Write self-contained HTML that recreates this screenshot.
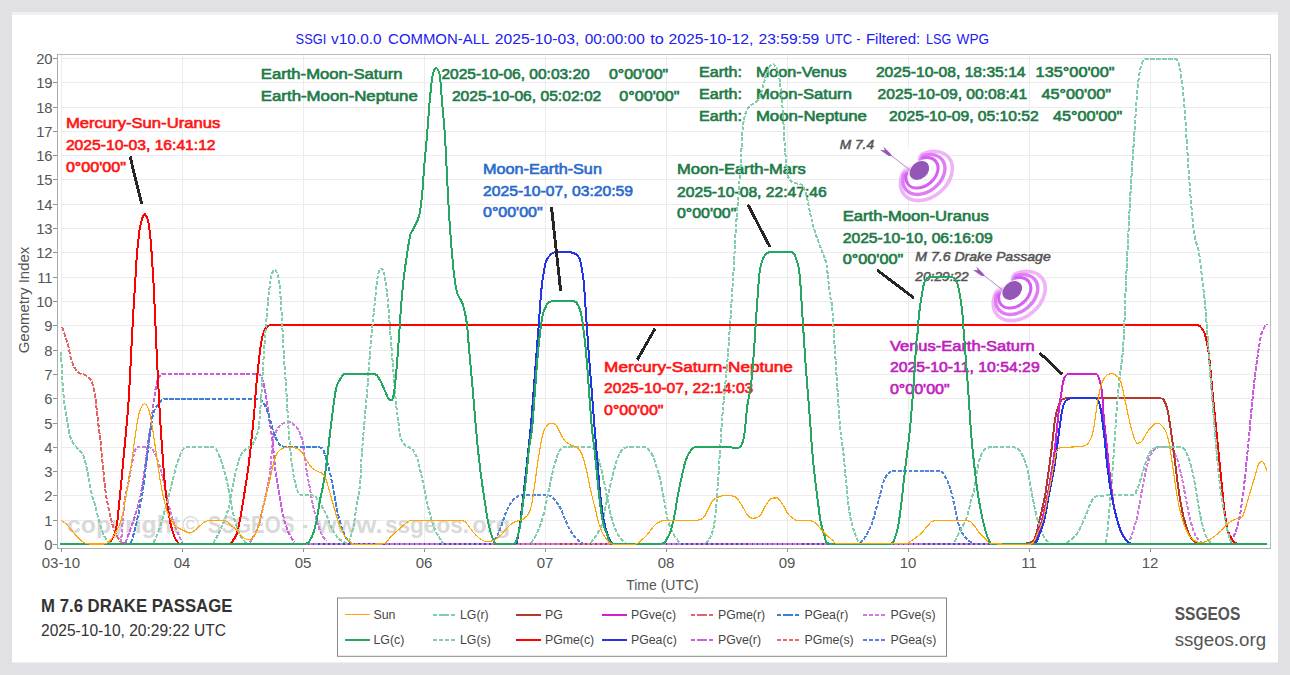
<!DOCTYPE html>
<html><head><meta charset="utf-8"><title>SSGI chart</title>
<style>
html,body{margin:0;padding:0;background:#e1e0e4;width:1290px;height:675px;overflow:hidden;}
svg{display:block;}
text{font-family:"Liberation Sans",sans-serif;}
</style></head><body>
<svg width="1290" height="675" viewBox="0 0 1290 675">
<rect x="0" y="0" width="1290" height="675" fill="#e1e0e4"/>
<rect x="12" y="12" width="1266" height="650.5" fill="#ffffff"/>
<rect x="12" y="12" width="1266" height="3" fill="#f1f1f1"/>
<g stroke="#ececec" stroke-width="1" shape-rendering="crispEdges"><line x1="61" y1="520.5" x2="1270" y2="520.5"/><line x1="61" y1="495.5" x2="1270" y2="495.5"/><line x1="61" y1="471.5" x2="1270" y2="471.5"/><line x1="61" y1="447.5" x2="1270" y2="447.5"/><line x1="61" y1="423.5" x2="1270" y2="423.5"/><line x1="61" y1="398.5" x2="1270" y2="398.5"/><line x1="61" y1="374.5" x2="1270" y2="374.5"/><line x1="61" y1="350.5" x2="1270" y2="350.5"/><line x1="61" y1="325.5" x2="1270" y2="325.5"/><line x1="61" y1="301.5" x2="1270" y2="301.5"/><line x1="61" y1="277.5" x2="1270" y2="277.5"/><line x1="61" y1="252.5" x2="1270" y2="252.5"/><line x1="61" y1="228.5" x2="1270" y2="228.5"/><line x1="61" y1="204.5" x2="1270" y2="204.5"/><line x1="61" y1="179.5" x2="1270" y2="179.5"/><line x1="61" y1="155.5" x2="1270" y2="155.5"/><line x1="61" y1="131.5" x2="1270" y2="131.5"/><line x1="61" y1="107.5" x2="1270" y2="107.5"/><line x1="61" y1="82.5" x2="1270" y2="82.5"/><line x1="61" y1="58.5" x2="1270" y2="58.5"/><line x1="61" y1="544.5" x2="1270" y2="544.5"/><line x1="61.5" y1="55" x2="61.5" y2="545"/><line x1="182.5" y1="55" x2="182.5" y2="545"/><line x1="303.5" y1="55" x2="303.5" y2="545"/><line x1="424.5" y1="55" x2="424.5" y2="545"/><line x1="545.5" y1="55" x2="545.5" y2="545"/><line x1="666.5" y1="55" x2="666.5" y2="545"/><line x1="787.5" y1="55" x2="787.5" y2="545"/><line x1="908.5" y1="55" x2="908.5" y2="545"/><line x1="1029.5" y1="55" x2="1029.5" y2="545"/><line x1="1150.5" y1="55" x2="1150.5" y2="545"/></g>
<path d="M57.5 54.5 H1270.5 V548" fill="none" stroke="#bbbbbb" stroke-width="1" shape-rendering="crispEdges"/>
<path d="M57.5 54 V548.5 H1270.5" fill="none" stroke="#acacac" stroke-width="1" shape-rendering="crispEdges"/>
<g stroke="#909090" stroke-width="1" shape-rendering="crispEdges"><line x1="53" y1="544.5" x2="57" y2="544.5"/><line x1="53" y1="520.5" x2="57" y2="520.5"/><line x1="53" y1="495.5" x2="57" y2="495.5"/><line x1="53" y1="471.5" x2="57" y2="471.5"/><line x1="53" y1="447.5" x2="57" y2="447.5"/><line x1="53" y1="423.5" x2="57" y2="423.5"/><line x1="53" y1="398.5" x2="57" y2="398.5"/><line x1="53" y1="374.5" x2="57" y2="374.5"/><line x1="53" y1="350.5" x2="57" y2="350.5"/><line x1="53" y1="325.5" x2="57" y2="325.5"/><line x1="53" y1="301.5" x2="57" y2="301.5"/><line x1="53" y1="277.5" x2="57" y2="277.5"/><line x1="53" y1="252.5" x2="57" y2="252.5"/><line x1="53" y1="228.5" x2="57" y2="228.5"/><line x1="53" y1="204.5" x2="57" y2="204.5"/><line x1="53" y1="179.5" x2="57" y2="179.5"/><line x1="53" y1="155.5" x2="57" y2="155.5"/><line x1="53" y1="131.5" x2="57" y2="131.5"/><line x1="53" y1="107.5" x2="57" y2="107.5"/><line x1="53" y1="82.5" x2="57" y2="82.5"/><line x1="53" y1="58.5" x2="57" y2="58.5"/><line x1="61.5" y1="549" x2="61.5" y2="552"/><line x1="182.5" y1="549" x2="182.5" y2="552"/><line x1="303.5" y1="549" x2="303.5" y2="552"/><line x1="424.5" y1="549" x2="424.5" y2="552"/><line x1="545.5" y1="549" x2="545.5" y2="552"/><line x1="666.5" y1="549" x2="666.5" y2="552"/><line x1="787.5" y1="549" x2="787.5" y2="552"/><line x1="908.5" y1="549" x2="908.5" y2="552"/><line x1="1029.5" y1="549" x2="1029.5" y2="552"/><line x1="1150.5" y1="549" x2="1150.5" y2="552"/></g>
<g font-size="14.8" fill="#555"><text x="52.6" y="549.5" text-anchor="end">0</text><text x="52.6" y="525.5" text-anchor="end">1</text><text x="52.6" y="500.5" text-anchor="end">2</text><text x="52.6" y="476.5" text-anchor="end">3</text><text x="52.6" y="452.5" text-anchor="end">4</text><text x="52.6" y="428.5" text-anchor="end">5</text><text x="52.6" y="403.5" text-anchor="end">6</text><text x="52.6" y="379.5" text-anchor="end">7</text><text x="52.6" y="355.5" text-anchor="end">8</text><text x="52.6" y="330.5" text-anchor="end">9</text><text x="52.6" y="306.5" text-anchor="end">10</text><text x="52.6" y="282.5" text-anchor="end">11</text><text x="52.6" y="257.5" text-anchor="end">12</text><text x="52.6" y="233.5" text-anchor="end">13</text><text x="52.6" y="209.5" text-anchor="end">14</text><text x="52.6" y="184.5" text-anchor="end">15</text><text x="52.6" y="160.5" text-anchor="end">16</text><text x="52.6" y="136.5" text-anchor="end">17</text><text x="52.6" y="112.5" text-anchor="end">18</text><text x="52.6" y="87.5" text-anchor="end">19</text><text x="52.6" y="63.5" text-anchor="end">20</text></g>
<g font-size="15" fill="#555"><text x="60.9" y="567.8" text-anchor="middle">03-10</text><text x="182.0" y="567.8" text-anchor="middle">04</text><text x="303.0" y="567.8" text-anchor="middle">05</text><text x="424.0" y="567.8" text-anchor="middle">06</text><text x="545.0" y="567.8" text-anchor="middle">07</text><text x="666.0" y="567.8" text-anchor="middle">08</text><text x="787.0" y="567.8" text-anchor="middle">09</text><text x="908.0" y="567.8" text-anchor="middle">10</text><text x="1029.0" y="567.8" text-anchor="middle">11</text><text x="1150.0" y="567.8" text-anchor="middle">12</text></g>
<text x="626.20" y="589.7" font-size="15" fill="#555" textLength="72.50" lengthAdjust="spacingAndGlyphs">Time (UTC)</text>
<text transform="translate(29.2,300) rotate(-90)" font-size="15" fill="#555" text-anchor="middle">Geometry Index</text>
<text x="295.60" y="43.9" font-size="14" fill="#2020f0" textLength="30.80" lengthAdjust="spacingAndGlyphs">SSGI</text>
<text x="331.10" y="43.9" font-size="14" fill="#2020f0" textLength="50.40" lengthAdjust="spacingAndGlyphs">v10.0.0</text>
<text x="388.10" y="43.9" font-size="14" fill="#2020f0" textLength="101.21" lengthAdjust="spacingAndGlyphs">COMMON-ALL</text>
<text x="494.80" y="43.9" font-size="14" fill="#2020f0" textLength="84.50" lengthAdjust="spacingAndGlyphs">2025-10-03,</text>
<text x="584.70" y="43.9" font-size="14" fill="#2020f0" textLength="60.09" lengthAdjust="spacingAndGlyphs">00:00:00</text>
<text x="650.20" y="43.9" font-size="14" fill="#2020f0" textLength="13.60" lengthAdjust="spacingAndGlyphs">to</text>
<text x="668.50" y="43.9" font-size="14" fill="#2020f0" textLength="84.90" lengthAdjust="spacingAndGlyphs">2025-10-12,</text>
<text x="758.50" y="43.9" font-size="14" fill="#2020f0" textLength="60.79" lengthAdjust="spacingAndGlyphs">23:59:59</text>
<text x="825.20" y="43.9" font-size="14" fill="#2020f0" textLength="27.10" lengthAdjust="spacingAndGlyphs">UTC</text>
<text x="856.60" y="43.9" font-size="14" fill="#2020f0" textLength="3.90" lengthAdjust="spacingAndGlyphs">-</text>
<text x="865.90" y="43.9" font-size="14" fill="#2020f0" textLength="54.30" lengthAdjust="spacingAndGlyphs">Filtered:</text>
<text x="926.00" y="43.9" font-size="14" fill="#2020f0" textLength="25.20" lengthAdjust="spacingAndGlyphs">LSG</text>
<text x="956.60" y="43.9" font-size="14" fill="#2020f0" textLength="32.50" lengthAdjust="spacingAndGlyphs">WPG</text>
<text x="67.00" y="532.6" font-size="24" fill="#d4d4d4" font-weight="bold" textLength="113.19" lengthAdjust="spacingAndGlyphs" fill-opacity="0.9">copyright</text>
<text x="182.10" y="532.6" font-size="24" fill="#d4d4d4" textLength="17.00" lengthAdjust="spacingAndGlyphs" fill-opacity="0.9">©</text>
<text x="207.70" y="532.6" font-size="24" fill="#d4d4d4" font-weight="bold" textLength="86.69" lengthAdjust="spacingAndGlyphs" fill-opacity="0.9">SSGEOS</text>
<text x="302.50" y="532.6" font-size="24" fill="#d4d4d4" font-weight="bold" textLength="5.50" lengthAdjust="spacingAndGlyphs" fill-opacity="0.9">-</text>
<text x="316.78" y="532.6" font-size="24" fill="#d4d4d4" font-weight="bold" textLength="65.83" lengthAdjust="spacingAndGlyphs" fill-opacity="0.9">www.</text>
<text x="384.90" y="532.6" font-size="24" fill="#d4d4d4" font-weight="bold" textLength="84.20" lengthAdjust="spacingAndGlyphs" fill-opacity="0.9">ssgeos.</text>
<text x="472.20" y="532.6" font-size="24" fill="#d4d4d4" font-weight="bold" textLength="38.00" lengthAdjust="spacingAndGlyphs" fill-opacity="0.9">org</text>
<text x="65.90" y="128.2" font-size="14" fill="#ff1414" stroke="#ff1414" stroke-width="0.6" textLength="154.41" lengthAdjust="spacingAndGlyphs">Mercury-Sun-Uranus</text>
<text x="65.90" y="149.8" font-size="14" fill="#ff1414" stroke="#ff1414" stroke-width="0.6" textLength="149.69" lengthAdjust="spacingAndGlyphs">2025-10-03, 16:41:12</text>
<text x="65.90" y="171.5" font-size="14" fill="#ff1414" stroke="#ff1414" stroke-width="0.6" textLength="60.09" lengthAdjust="spacingAndGlyphs">0°00'00"</text>
<text x="260.80" y="78.7" font-size="14" fill="#217a47" stroke="#217a47" stroke-width="0.6" textLength="141.70" lengthAdjust="spacingAndGlyphs">Earth-Moon-Saturn</text>
<text x="441.40" y="78.7" font-size="14" fill="#217a47" stroke="#217a47" stroke-width="0.6" textLength="148.29" lengthAdjust="spacingAndGlyphs">2025-10-06, 00:03:20</text>
<text x="608.90" y="78.7" font-size="14" fill="#217a47" stroke="#217a47" stroke-width="0.6" textLength="59.39" lengthAdjust="spacingAndGlyphs">0°00'00"</text>
<text x="260.80" y="101.0" font-size="14" fill="#217a47" stroke="#217a47" stroke-width="0.6" textLength="157.01" lengthAdjust="spacingAndGlyphs">Earth-Moon-Neptune</text>
<text x="451.90" y="101.0" font-size="14" fill="#217a47" stroke="#217a47" stroke-width="0.6" textLength="149.39" lengthAdjust="spacingAndGlyphs">2025-10-06, 05:02:02</text>
<text x="619.30" y="101.0" font-size="14" fill="#217a47" stroke="#217a47" stroke-width="0.6" textLength="60.09" lengthAdjust="spacingAndGlyphs">0°00'00"</text>
<text x="699.00" y="76.6" font-size="14" fill="#217a47" stroke="#217a47" stroke-width="0.6" textLength="43.00" lengthAdjust="spacingAndGlyphs">Earth:</text>
<text x="755.90" y="76.6" font-size="14" fill="#217a47" stroke="#217a47" stroke-width="0.6" textLength="90.80" lengthAdjust="spacingAndGlyphs">Moon-Venus</text>
<text x="875.90" y="76.6" font-size="14" fill="#217a47" stroke="#217a47" stroke-width="0.6" textLength="149.69" lengthAdjust="spacingAndGlyphs">2025-10-08, 18:35:14</text>
<text x="1035.60" y="76.6" font-size="14" fill="#217a47" stroke="#217a47" stroke-width="0.6" textLength="78.90" lengthAdjust="spacingAndGlyphs">135°00'00"</text>
<text x="699.00" y="98.6" font-size="14" fill="#217a47" stroke="#217a47" stroke-width="0.6" textLength="43.00" lengthAdjust="spacingAndGlyphs">Earth:</text>
<text x="755.90" y="98.6" font-size="14" fill="#217a47" stroke="#217a47" stroke-width="0.6" textLength="96.00" lengthAdjust="spacingAndGlyphs">Moon-Saturn</text>
<text x="877.60" y="98.6" font-size="14" fill="#217a47" stroke="#217a47" stroke-width="0.6" textLength="149.69" lengthAdjust="spacingAndGlyphs">2025-10-09, 00:08:41</text>
<text x="1041.50" y="98.6" font-size="14" fill="#217a47" stroke="#217a47" stroke-width="0.6" textLength="69.50" lengthAdjust="spacingAndGlyphs">45°00'00"</text>
<text x="699.00" y="120.6" font-size="14" fill="#217a47" stroke="#217a47" stroke-width="0.6" textLength="43.00" lengthAdjust="spacingAndGlyphs">Earth:</text>
<text x="755.90" y="120.6" font-size="14" fill="#217a47" stroke="#217a47" stroke-width="0.6" textLength="111.00" lengthAdjust="spacingAndGlyphs">Moon-Neptune</text>
<text x="889.10" y="120.6" font-size="14" fill="#217a47" stroke="#217a47" stroke-width="0.6" textLength="149.69" lengthAdjust="spacingAndGlyphs">2025-10-09, 05:10:52</text>
<text x="1053.00" y="120.6" font-size="14" fill="#217a47" stroke="#217a47" stroke-width="0.6" textLength="69.20" lengthAdjust="spacingAndGlyphs">45°00'00"</text>
<text x="483.00" y="173.8" font-size="14" fill="#2a6bcc" stroke="#2a6bcc" stroke-width="0.6" textLength="118.90" lengthAdjust="spacingAndGlyphs">Moon-Earth-Sun</text>
<text x="483.00" y="196.0" font-size="14" fill="#2a6bcc" stroke="#2a6bcc" stroke-width="0.6" textLength="149.99" lengthAdjust="spacingAndGlyphs">2025-10-07, 03:20:59</text>
<text x="483.00" y="217.3" font-size="14" fill="#2a6bcc" stroke="#2a6bcc" stroke-width="0.6" textLength="59.59" lengthAdjust="spacingAndGlyphs">0°00'00"</text>
<text x="677.00" y="174.4" font-size="14" fill="#217a47" stroke="#217a47" stroke-width="0.6" textLength="128.70" lengthAdjust="spacingAndGlyphs">Moon-Earth-Mars</text>
<text x="677.00" y="196.7" font-size="14" fill="#217a47" stroke="#217a47" stroke-width="0.6" textLength="149.79" lengthAdjust="spacingAndGlyphs">2025-10-08, 22:47:46</text>
<text x="677.00" y="218.0" font-size="14" fill="#217a47" stroke="#217a47" stroke-width="0.6" textLength="59.39" lengthAdjust="spacingAndGlyphs">0°00'00"</text>
<text x="604.10" y="371.8" font-size="14" fill="#ff1414" stroke="#ff1414" stroke-width="0.6" textLength="188.81" lengthAdjust="spacingAndGlyphs">Mercury-Saturn-Neptune</text>
<text x="604.10" y="393.3" font-size="14" fill="#ff1414" stroke="#ff1414" stroke-width="0.6" textLength="149.19" lengthAdjust="spacingAndGlyphs">2025-10-07, 22:14:03</text>
<text x="604.10" y="414.8" font-size="14" fill="#ff1414" stroke="#ff1414" stroke-width="0.6" textLength="59.39" lengthAdjust="spacingAndGlyphs">0°00'00"</text>
<text x="842.70" y="220.6" font-size="14" fill="#217a47" stroke="#217a47" stroke-width="0.6" textLength="146.01" lengthAdjust="spacingAndGlyphs">Earth-Moon-Uranus</text>
<text x="842.70" y="242.6" font-size="14" fill="#217a47" stroke="#217a47" stroke-width="0.6" textLength="149.99" lengthAdjust="spacingAndGlyphs">2025-10-10, 06:16:09</text>
<text x="842.70" y="264.2" font-size="14" fill="#217a47" stroke="#217a47" stroke-width="0.6" textLength="60.59" lengthAdjust="spacingAndGlyphs">0°00'00"</text>
<text x="889.90" y="350.5" font-size="14" fill="#c01fc0" stroke="#c01fc0" stroke-width="0.6" textLength="144.80" lengthAdjust="spacingAndGlyphs">Venus-Earth-Saturn</text>
<text x="889.90" y="372.2" font-size="14" fill="#c01fc0" stroke="#c01fc0" stroke-width="0.6" textLength="149.80" lengthAdjust="spacingAndGlyphs">2025-10-11, 10:54:29</text>
<text x="889.90" y="393.9" font-size="14" fill="#c01fc0" stroke="#c01fc0" stroke-width="0.6" textLength="59.79" lengthAdjust="spacingAndGlyphs">0°00'00"</text>
<text x="839.65" y="148.7" font-size="13" fill="#555" font-style="italic" stroke="#555" stroke-width="0.50" textLength="34.40" lengthAdjust="spacingAndGlyphs">M 7.4</text>
<text x="915.25" y="260.6" font-size="13" fill="#555" font-style="italic" stroke="#555" stroke-width="0.50" textLength="135.50" lengthAdjust="spacingAndGlyphs">M 7.6 Drake Passage</text>
<text x="915.33" y="280.6" font-size="13" fill="#555" font-style="italic" stroke="#555" stroke-width="0.50" textLength="53.41" lengthAdjust="spacingAndGlyphs">20:29:22</text>
<line x1="305" y1="544" x2="1267" y2="544" stroke="#d473d9" stroke-width="2" shape-rendering="crispEdges"/>
<line x1="307.84" y1="544" x2="494.0" y2="544" stroke="#2448e0" stroke-width="2" stroke-dasharray="1.6 3.4417" shape-rendering="crispEdges"/>
<line x1="494.38" y1="544" x2="612.0" y2="544" stroke="#d42a2a" stroke-width="2" stroke-dasharray="1.6 3.4417" shape-rendering="crispEdges"/>
<line x1="615.38" y1="544" x2="1030.0" y2="544" stroke="#2448e0" stroke-width="2" stroke-dasharray="1.6 3.4417" shape-rendering="crispEdges"/>
<path d="M62.1 326.7 C62.7 328.5 64.7 334.1 65.7 337.3 C66.7 340.6 67.4 342.6 68.3 346.2 C69.2 349.8 70.0 355.1 71.0 358.7 C72.0 362.3 73.3 365.2 74.6 367.6 C75.9 370.0 77.4 371.7 79.0 372.9 C80.6 374.1 82.7 374.0 84.3 374.7 C85.9 375.4 87.5 375.8 88.8 377.3 C90.1 378.8 91.3 380.5 92.3 383.6 C93.3 386.7 94.3 391.9 95.0 396.0 C95.7 400.1 96.0 404.0 96.5 408.0 C97.0 412.0 97.2 414.8 97.8 420.0 C98.4 425.2 99.6 432.9 100.3 439.3 C101.0 445.7 101.6 452.1 102.2 458.5 C102.8 464.9 103.4 471.7 104.1 477.8 C104.8 483.9 105.3 489.6 106.1 495.1 C106.9 500.6 108.0 506.1 109.0 510.6 C110.0 515.1 110.7 518.2 111.8 522.1 C112.9 526.0 114.2 530.5 115.7 533.7 C117.2 536.9 119.2 539.8 120.5 541.4 C121.8 543.0 122.9 543.0 123.4 543.3" fill="none" stroke="#e46464" stroke-width="2.00" stroke-dasharray="4.5 1.5" stroke-linejoin="round" shape-rendering="crispEdges"/>
<path d="M121.0 543.0 C121.6 536.3 123.2 512.8 124.4 502.9 C125.6 493.0 127.1 489.4 128.2 483.6 C129.3 477.8 130.1 473.1 131.1 468.2 C132.1 463.3 133.1 457.4 134.0 454.0 C134.9 450.6 135.6 449.2 136.6 448.0 C137.6 446.8 138.6 446.7 140.0 446.5 C141.4 446.5 143.3 446.5 145.0 446.7 C146.7 446.9 148.6 446.8 150.0 447.5 C151.4 448.2 152.2 448.8 153.5 451.0 C154.8 453.2 156.6 457.2 158.0 461.0 C159.4 464.8 160.7 468.7 162.0 474.0 C163.3 479.3 164.6 486.7 166.0 493.0 C167.4 499.3 169.1 506.8 170.4 512.0 C171.7 517.2 172.6 520.1 174.0 524.0 C175.4 527.9 177.5 532.4 178.9 535.6 C180.3 538.8 182.1 542.0 182.7 543.3" fill="none" stroke="#d07ae0" stroke-width="2.00" stroke-dasharray="3.8 1.6" stroke-linejoin="round" shape-rendering="crispEdges"/>
<path d="M250.1 542.3 C251.4 539.9 255.6 534.1 257.9 527.9 C260.1 521.6 261.7 513.1 263.6 504.8 C265.5 496.5 268.1 485.5 269.4 477.8 C270.7 470.1 270.6 464.9 271.3 458.5 C272.0 452.1 272.3 444.1 273.3 439.3 C274.3 434.5 275.8 432.1 277.1 429.6 C278.4 427.1 279.7 425.6 281.0 424.5 C282.3 423.4 283.5 423.3 284.8 422.9 C286.1 422.5 287.5 422.3 288.7 422.3 C289.9 422.4 290.7 422.3 292.2 423.3 C293.7 424.4 296.1 426.1 297.8 428.9 C299.5 431.7 301.1 435.6 302.2 440.0 C303.3 444.4 303.6 450.4 304.4 455.6 C305.1 460.8 305.8 465.6 306.7 471.1 C307.6 476.7 308.9 483.0 310.0 488.9 C311.1 494.8 312.0 500.8 313.3 506.7 C314.6 512.6 316.3 519.6 317.8 524.4 C319.3 529.2 320.7 532.8 322.2 535.6 C323.7 538.4 325.9 540.2 326.7 541.1" fill="none" stroke="#d07ae0" stroke-width="2.00" stroke-dasharray="3.8 1.6" stroke-linejoin="round" shape-rendering="crispEdges"/>
<path d="M1130.0 540.1 C1131.2 536.4 1134.9 526.5 1137.0 517.6 C1139.1 508.7 1140.7 496.1 1142.6 486.7 C1144.5 477.3 1146.3 467.4 1148.2 461.3 C1150.1 455.2 1151.9 452.4 1153.8 450.0 C1155.7 447.6 1157.0 447.6 1159.5 447.1 C1162.0 446.9 1166.2 446.9 1169.0 446.9 C1171.8 448.4 1174.1 452.1 1176.1 456.4 C1178.1 460.7 1179.2 466.2 1180.8 472.9 C1182.4 479.6 1183.9 488.7 1185.5 496.6 C1187.1 504.5 1188.5 513.6 1190.3 520.3 C1192.1 527.0 1194.2 533.1 1196.2 536.9 C1198.2 540.6 1201.1 541.8 1202.1 542.8" fill="none" stroke="#d07ae0" stroke-width="2.00" stroke-dasharray="3.8 1.6" stroke-linejoin="round" shape-rendering="crispEdges"/>
<path d="M125.3 543.0 C126.4 540.0 129.7 532.0 132.0 525.0 C134.3 518.0 137.4 509.0 139.4 500.7 C141.4 492.4 142.6 484.4 144.0 475.0 C145.4 465.6 146.6 454.2 147.9 444.4 C149.2 434.6 150.6 425.9 152.0 416.0 C153.4 406.1 154.9 391.8 156.3 385.0 C157.7 378.2 159.1 376.8 160.5 375.0 C161.9 374.0 160.5 374.2 165.0 374.0 C181.0 374.0 240.4 374.0 256.6 374.0 C262.2 374.8 260.6 374.7 262.2 378.8 C263.8 382.9 265.2 391.6 266.4 398.5 C267.6 405.4 268.4 413.2 269.4 420.0 C270.4 426.8 271.3 431.3 272.3 439.3 C273.3 447.3 274.1 459.2 275.2 468.2 C276.3 477.2 277.8 486.0 279.0 493.2 C280.2 500.4 281.1 505.9 282.2 511.1 C283.3 516.3 284.3 520.3 285.6 524.4 C286.9 528.5 288.5 532.6 290.0 535.6 C291.5 538.6 293.7 541.1 294.4 542.2" fill="none" stroke="#cc5ce0" stroke-width="2.00" stroke-dasharray="4.5 1.5" stroke-linejoin="round" shape-rendering="crispEdges"/>
<path d="M1231.1 542.6 C1232.3 539.2 1236.3 531.8 1238.5 522.2 C1240.7 512.6 1242.2 500.6 1244.1 485.2 C1245.9 469.8 1247.8 448.1 1249.6 429.6 C1251.4 411.1 1253.3 389.5 1255.2 374.1 C1257.1 358.7 1259.2 344.7 1260.7 337.0 C1262.2 329.3 1263.0 330.1 1264.0 328.0 C1265.0 325.9 1266.5 324.8 1267.0 324.1" fill="none" stroke="#cc5ce0" stroke-width="2.00" stroke-dasharray="4.5 1.5" stroke-linejoin="round" shape-rendering="crispEdges"/>
<path d="M131.0 543.0 C131.8 540.0 134.1 533.0 136.0 525.0 C137.9 517.0 140.5 505.0 142.2 495.0 C143.9 485.0 144.8 474.4 146.0 465.0 C147.2 455.6 148.3 446.3 149.3 438.8 C150.3 431.3 151.1 425.0 152.0 420.0 C152.9 415.0 153.6 412.0 155.0 409.0 C156.4 406.0 158.8 403.8 160.5 402.0 C162.2 400.2 160.5 399.1 165.0 398.5 C180.8 398.5 239.0 398.5 255.2 398.5 C262.2 399.0 260.1 399.0 262.2 401.3 C264.3 403.6 266.0 407.4 267.9 412.5 C269.8 417.6 271.6 426.8 273.5 432.0 C275.4 437.2 277.1 441.0 279.0 443.5 C280.9 446.0 279.0 446.1 284.7 446.8 C291.5 447.5 313.4 446.8 320.0 447.5 C324.4 448.6 323.1 450.5 324.4 453.3 C325.7 456.1 326.7 460.3 327.8 464.4 C328.9 468.5 330.0 472.6 331.1 477.8 C332.2 483.0 333.3 489.7 334.4 495.6 C335.5 501.5 336.5 507.7 337.8 513.3 C339.1 518.8 340.7 524.6 342.2 528.9 C343.7 533.2 345.2 536.5 346.7 538.9 C348.2 541.3 350.4 542.6 351.1 543.3" fill="none" stroke="#3c7fd6" stroke-width="2.00" stroke-dasharray="4.5 1.5" stroke-linejoin="round" shape-rendering="crispEdges"/>
<path d="M494.3 540.4 C494.9 539.3 496.9 536.4 498.2 533.7 C499.5 531.0 500.7 527.5 502.0 524.0 C503.3 520.5 504.6 515.7 505.9 512.5 C507.2 509.3 508.1 507.2 509.7 504.8 C511.3 502.4 513.2 499.6 515.5 498.0 C517.8 496.4 518.1 495.6 523.2 495.1 C528.3 495.1 541.5 495.1 546.3 495.1 C551.1 495.4 550.5 496.1 552.1 497.1 C553.7 498.1 554.4 499.0 555.8 500.9 C557.2 502.8 559.0 505.4 560.6 508.6 C562.2 511.8 563.6 516.3 565.4 520.2 C567.2 524.1 569.3 528.6 571.2 531.8 C573.1 535.0 575.1 537.6 577.0 539.5 C578.9 541.4 581.8 542.7 582.8 543.3" fill="none" stroke="#4f86dc" stroke-width="2.00" stroke-dasharray="3.8 1.6" stroke-linejoin="round" shape-rendering="crispEdges"/>
<path d="M860.2 543.3 C861.2 542.0 864.1 538.8 866.0 535.6 C867.9 532.4 870.2 528.2 871.8 524.0 C873.4 519.8 874.3 515.1 875.6 510.6 C876.9 506.1 878.4 501.3 879.5 497.1 C880.6 492.9 881.4 488.7 882.4 485.5 C883.4 482.3 884.1 479.9 885.2 477.8 C886.3 475.7 887.5 474.1 889.1 473.0 C890.7 471.9 889.1 471.4 894.9 471.1 C903.2 471.1 930.6 471.1 938.9 471.1 C944.4 471.9 942.7 473.4 944.4 475.6 C946.1 477.8 947.6 481.1 948.9 484.4 C950.2 487.7 951.1 491.2 952.2 495.6 C953.3 500.1 954.3 505.6 955.6 511.1 C956.9 516.6 958.1 524.3 960.0 528.9 C961.9 533.5 964.5 536.5 966.7 538.9 C968.9 541.3 972.2 542.6 973.3 543.3" fill="none" stroke="#4f86dc" stroke-width="2.00" stroke-dasharray="3.8 1.6" stroke-linejoin="round" shape-rendering="crispEdges"/>
<path d="M109.0 543.6 C109.6 542.6 111.7 539.6 112.8 537.5 C113.9 535.4 114.7 533.9 115.5 531.0 C116.3 528.1 116.8 525.2 117.5 520.0 C118.2 514.8 118.8 506.7 119.5 500.0 C120.2 493.3 120.8 487.0 121.5 480.0 C122.2 473.0 122.8 465.2 123.5 458.0 C124.2 450.8 124.8 444.7 125.5 437.0 C126.2 429.3 127.1 420.7 127.8 412.0 C128.5 403.3 129.0 393.7 129.5 385.0 C130.0 376.3 130.5 366.5 130.8 360.0 C131.1 353.5 131.2 352.3 131.5 346.2 C131.8 340.1 132.3 331.2 132.7 323.6 C133.1 316.1 133.6 308.0 134.0 300.9 C134.4 293.8 134.9 287.5 135.3 280.8 C135.7 274.1 136.1 266.5 136.5 260.6 C136.9 254.7 137.3 250.5 137.8 245.5 C138.3 240.5 138.9 234.6 139.5 230.4 C140.1 226.2 141.0 222.7 141.6 220.3 C142.2 217.9 142.7 217.1 143.2 216.0 C143.7 214.9 144.1 214.0 144.6 214.0 C145.1 214.0 145.6 214.9 146.2 216.0 C146.8 217.1 147.3 217.9 147.9 220.3 C148.5 222.7 149.1 226.2 149.6 230.4 C150.1 234.6 150.7 240.5 151.1 245.5 C151.5 250.5 151.7 254.7 152.1 260.6 C152.5 266.5 153.0 274.1 153.4 280.8 C153.8 287.5 154.1 293.8 154.4 300.9 C154.7 308.0 155.1 316.1 155.4 323.6 C155.7 331.2 156.1 338.5 156.4 346.2 C156.8 353.9 157.1 361.9 157.5 370.0 C157.9 378.1 158.3 385.8 158.8 395.0 C159.3 404.2 159.8 413.3 160.5 425.0 C161.2 436.7 162.4 453.3 163.3 465.0 C164.2 476.7 164.9 485.3 166.1 495.0 C167.3 504.7 169.0 516.0 170.4 523.0 C171.8 530.0 173.2 533.6 174.6 537.0 C176.0 540.4 178.1 542.5 178.8 543.6" fill="none" stroke="#ff0000" stroke-width="2.00" stroke-linejoin="round" shape-rendering="crispEdges"/>
<path d="M230.9 543.6 C231.9 542.0 235.1 538.4 236.7 534.0 C238.3 529.6 239.2 523.8 240.5 517.0 C241.8 510.2 243.1 501.3 244.4 493.2 C245.7 485.1 247.2 475.6 248.2 468.2 C249.2 460.8 249.8 455.0 250.5 448.9 C251.2 442.8 251.7 437.2 252.3 431.6 C252.9 426.0 253.4 422.5 254.0 415.3 C254.6 408.1 255.2 397.6 256.0 388.7 C256.8 379.8 257.8 369.8 258.7 362.0 C259.6 354.2 260.4 347.1 261.3 342.0 C262.2 336.9 262.9 334.2 264.0 331.5 C265.1 328.8 266.5 327.1 268.0 326.0 C269.5 325.1 268.0 325.2 273.0 325.1 C427.7 325.1 1041.3 325.1 1196.0 325.1 C1201.0 325.5 1199.6 326.2 1201.0 327.5 C1202.4 328.8 1203.4 329.9 1204.5 333.0 C1205.6 336.1 1206.7 340.7 1207.6 346.0 C1208.5 351.3 1209.2 357.2 1210.0 365.0 C1210.8 372.8 1211.5 381.8 1212.6 392.6 C1213.6 403.4 1215.1 417.2 1216.3 429.6 C1217.5 442.0 1218.8 454.4 1220.0 466.7 C1221.2 479.0 1222.5 493.2 1223.7 503.7 C1224.9 514.2 1225.9 523.4 1227.4 529.6 C1229.0 535.8 1231.5 538.4 1233.0 540.7 C1234.5 543.0 1236.1 543.1 1236.7 543.6" fill="none" stroke="#ff0000" stroke-width="2.00" stroke-linejoin="round" shape-rendering="crispEdges"/>
<path d="M1026.7 543.3 C1027.7 543.0 1031.2 542.8 1032.7 541.4 C1034.2 540.0 1034.9 538.5 1036.0 535.0 C1037.1 531.5 1038.0 526.5 1039.5 520.2 C1041.0 513.9 1043.3 505.0 1044.8 497.0 C1046.3 489.0 1047.4 480.0 1048.5 472.0 C1049.6 464.0 1050.5 457.6 1051.6 448.9 C1052.7 440.2 1053.9 426.6 1054.9 420.0 C1055.9 413.4 1056.6 412.1 1057.5 409.0 C1058.4 405.9 1059.1 403.3 1060.5 401.5 C1061.9 399.7 1060.5 398.8 1066.0 398.3 C1082.5 398.3 1143.1 398.3 1159.5 398.3 C1164.2 398.7 1162.8 398.5 1164.2 400.7 C1165.6 402.9 1166.8 407.2 1167.8 411.3 C1168.8 415.4 1169.3 420.4 1170.1 425.5 C1170.9 430.6 1171.7 436.2 1172.5 442.1 C1173.3 448.0 1174.1 454.8 1174.9 461.1 C1175.7 467.4 1176.5 474.1 1177.3 480.0 C1178.1 485.9 1178.6 490.7 1179.6 496.6 C1180.6 502.5 1182.0 510.5 1183.2 515.6 C1184.4 520.7 1185.5 523.9 1186.7 527.4 C1187.9 530.9 1188.9 534.5 1190.3 536.9 C1191.7 539.3 1193.4 540.6 1195.0 541.7 C1196.6 542.8 1199.0 543.0 1199.8 543.3" fill="none" stroke="#b5382b" stroke-width="2.00" stroke-linejoin="round" shape-rendering="crispEdges"/>
<path d="M61.2 351.6 C61.3 354.9 61.5 364.9 61.8 371.1 C62.1 377.3 62.5 383.0 63.0 388.9 C63.5 394.8 64.0 401.2 64.8 406.7 C65.5 412.2 66.6 417.1 67.5 422.0 C68.4 426.9 69.0 432.5 70.0 436.0 C71.0 439.5 72.0 441.0 73.3 443.1 C74.6 445.2 76.5 447.0 78.1 448.9 C79.7 450.8 81.6 452.1 82.9 454.7 C84.2 457.3 84.8 460.4 85.8 464.3 C86.8 468.2 87.7 473.0 88.7 477.8 C89.7 482.6 90.5 488.4 91.6 493.2 C92.7 498.0 94.2 501.9 95.5 506.7 C96.8 511.5 98.0 517.6 99.3 522.1 C100.6 526.6 101.9 530.7 103.2 533.7 C104.5 536.8 105.9 538.8 107.0 540.4 C108.1 542.0 109.4 542.8 109.9 543.3" fill="none" stroke="#82cdaa" stroke-width="2.00" stroke-dasharray="4.5 1.5" stroke-linejoin="round" shape-rendering="crispEdges"/>
<path d="M153.5 543.0 C154.6 540.3 157.7 534.0 160.0 527.0 C162.3 520.0 165.5 508.0 167.5 500.7 C169.5 493.4 170.6 488.6 172.0 483.0 C173.4 477.4 174.8 471.1 176.0 467.0 C177.2 462.9 177.8 461.4 178.9 458.5 C180.0 455.6 181.1 451.8 182.7 449.9 C184.3 448.0 183.7 447.5 188.5 447.0 C193.3 447.0 206.8 447.0 211.6 447.0 C216.4 447.8 215.6 448.9 217.4 451.8 C219.2 454.7 220.8 460.0 222.2 464.3 C223.6 468.6 224.6 471.7 226.1 477.8 C227.6 483.9 229.5 493.8 230.9 500.9 C232.3 508.0 233.1 514.4 234.7 520.2 C236.3 526.0 238.6 531.8 240.5 535.6 C242.4 539.4 245.3 541.8 246.3 543.0" fill="none" stroke="#82cdaa" stroke-width="2.00" stroke-dasharray="4.5 1.5" stroke-linejoin="round" shape-rendering="crispEdges"/>
<path d="M213.5 543.0 C214.8 540.5 218.6 533.9 221.2 527.9 C223.8 521.9 227.1 513.8 229.0 506.7 C230.9 499.6 231.5 491.9 232.8 485.5 C234.1 479.1 235.4 473.2 236.7 468.2 C238.0 463.2 238.9 458.8 240.5 455.6 C242.1 452.4 244.4 450.7 246.3 448.9 C248.2 447.1 250.3 447.1 252.0 445.0 C253.7 442.9 255.3 439.3 256.5 436.0 C257.7 432.7 258.2 431.8 259.0 425.0 C259.8 418.2 260.5 407.3 261.3 395.0 C262.1 382.7 263.1 364.4 264.0 351.3 C264.9 338.2 265.8 326.9 266.7 316.7 C267.6 306.5 268.5 296.9 269.3 290.0 C270.1 283.1 270.6 278.3 271.5 275.0 C272.4 271.7 273.7 270.2 274.7 270.0 C275.7 270.0 276.7 271.5 277.5 274.0 C278.3 276.5 278.9 279.2 279.5 285.0 C280.1 290.8 280.6 296.8 281.3 308.7 C282.1 320.6 283.1 342.0 284.0 356.7 C284.9 371.4 285.9 383.9 286.7 396.7 C287.5 409.5 288.0 421.6 288.9 433.3 C289.8 445.0 291.1 458.2 292.2 466.7 C293.3 475.2 294.3 479.8 295.6 484.4 C296.9 489.0 297.1 492.5 300.0 494.4 C302.9 495.6 310.3 494.7 313.3 495.6 C316.3 496.5 316.3 498.1 317.8 500.0 C319.3 501.9 320.7 504.1 322.2 506.7 C323.7 509.3 325.2 512.3 326.7 515.6 C328.2 518.9 329.2 523.0 331.1 526.7 C333.0 530.4 335.6 535.2 337.8 537.8 C340.0 540.4 342.9 541.2 344.4 542.2 C345.9 543.2 346.6 543.3 347.0 543.5" fill="none" stroke="#82cdaa" stroke-width="2.00" stroke-dasharray="3.8 1.6" stroke-linejoin="round" shape-rendering="crispEdges"/>
<path d="M348.9 542.2 C349.6 539.6 352.0 533.0 353.3 526.7 C354.6 520.4 355.6 511.4 356.7 504.4 C357.8 497.3 359.2 492.5 360.0 484.4 C360.8 476.3 361.0 465.5 361.7 455.6 C362.4 445.8 363.3 435.4 364.2 425.3 C365.1 415.2 365.9 405.7 366.8 395.1 C367.7 384.6 368.4 372.9 369.3 362.0 C370.2 351.1 371.1 339.8 372.0 330.0 C372.9 320.2 373.9 311.5 374.7 303.3 C375.5 295.1 376.3 286.3 377.0 281.0 C377.7 275.7 378.3 273.6 379.0 271.5 C379.7 269.4 380.6 268.7 381.3 268.7 C382.1 268.7 382.8 269.4 383.5 271.5 C384.2 273.6 384.8 275.7 385.5 281.0 C386.2 286.3 387.1 293.8 388.0 303.3 C388.9 312.8 389.8 326.9 390.7 338.0 C391.6 349.1 392.5 359.6 393.3 370.0 C394.1 380.4 394.9 391.8 395.7 400.2 C396.5 408.6 397.3 414.0 398.2 420.3 C399.1 426.6 399.5 433.8 400.8 438.0 C402.1 442.2 403.9 443.6 405.8 445.5 C407.7 447.4 410.2 447.2 412.1 449.3 C414.0 451.4 415.6 454.1 417.1 458.1 C418.6 462.1 419.6 467.8 420.9 473.2 C422.2 478.6 423.4 484.9 424.7 490.8 C426.0 496.7 427.0 502.6 428.5 508.5 C430.0 514.4 431.6 521.1 433.5 526.1 C435.4 531.1 438.1 535.9 439.8 538.7 C441.5 541.6 443.0 542.5 443.6 543.2" fill="none" stroke="#82cdaa" stroke-width="2.00" stroke-dasharray="3.8 1.6" stroke-linejoin="round" shape-rendering="crispEdges"/>
<path d="M530.9 543.3 C531.9 541.7 534.8 537.9 536.7 533.7 C538.6 529.5 540.7 524.4 542.5 518.3 C544.3 512.2 546.0 502.9 547.3 497.1 C548.6 491.3 549.2 488.1 550.2 483.6 C551.2 479.1 552.2 474.0 553.1 470.1 C554.0 466.2 554.7 463.7 555.8 460.5 C556.9 457.3 558.0 453.1 559.6 450.8 C561.2 448.6 560.2 447.6 565.4 447.0 C570.5 447.0 585.4 447.0 590.5 447.0 C595.6 448.0 594.6 449.9 596.2 452.8 C597.8 455.7 598.8 459.5 600.1 464.3 C601.4 469.1 602.7 475.6 604.0 481.7 C605.3 487.8 606.5 494.8 607.8 500.9 C609.1 507.0 610.2 513.1 611.7 518.3 C613.2 523.4 614.9 528.3 616.5 531.8 C618.1 535.3 619.9 537.6 621.3 539.5 C622.7 541.4 624.5 542.7 625.1 543.3" fill="none" stroke="#82cdaa" stroke-width="2.00" stroke-dasharray="4.5 1.5" stroke-linejoin="round" shape-rendering="crispEdges"/>
<path d="M590.5 543.3 C591.5 542.0 594.3 538.8 596.2 535.6 C598.1 532.4 600.4 529.1 602.0 524.0 C603.6 518.9 604.6 510.9 605.9 504.8 C607.2 498.7 608.4 492.9 609.7 487.4 C611.0 481.9 612.3 476.8 613.6 472.0 C614.9 467.2 616.0 462.2 617.4 458.5 C618.8 454.8 620.5 451.8 622.3 449.9 C624.1 448.0 624.3 447.5 628.0 447.0 C631.7 447.0 640.7 447.0 644.4 447.0 C648.1 447.8 648.6 449.9 650.2 451.8 C651.8 453.7 652.9 455.8 654.0 458.5 C655.1 461.2 655.8 464.5 656.9 468.2 C658.0 471.9 659.4 475.3 660.6 480.7 C661.8 486.1 663.0 494.1 664.3 500.8 C665.5 507.5 666.6 515.5 668.1 521.0 C669.6 526.5 671.5 530.2 673.2 533.6 C674.9 537.0 677.0 539.4 678.2 541.1 C679.5 542.8 680.3 543.2 680.7 543.6" fill="none" stroke="#82cdaa" stroke-width="2.00" stroke-dasharray="4.5 1.5" stroke-linejoin="round" shape-rendering="crispEdges"/>
<path d="M705.9 543.1 C706.7 541.9 709.4 539.8 710.9 536.1 C712.4 532.4 713.7 528.1 714.7 521.0 C715.8 513.9 716.4 504.2 717.2 493.3 C718.0 482.4 718.9 468.1 719.7 455.5 C720.5 442.9 721.4 428.7 722.2 417.8 C723.1 406.9 723.9 399.6 724.8 390.0 C725.7 380.4 726.6 370.8 727.5 360.0 C728.4 349.2 729.2 336.0 730.0 325.0 C730.8 314.0 731.4 303.6 732.0 294.0 C732.6 284.4 733.2 277.7 733.8 267.3 C734.4 256.9 734.8 243.7 735.6 231.8 C736.4 220.0 737.5 208.0 738.4 196.2 C739.3 184.3 740.2 171.7 740.9 160.7 C741.6 149.7 741.8 137.6 742.5 130.0 C743.2 122.4 743.9 118.8 745.0 115.0 C746.1 111.2 747.6 108.9 749.0 107.0 C750.4 105.1 751.8 105.0 753.3 103.8 C754.8 102.6 756.7 101.6 758.0 100.0 C759.3 98.4 760.0 96.9 761.0 94.0 C762.0 91.1 762.9 86.1 764.0 82.4 C765.1 78.7 766.5 74.6 767.6 71.8 C768.7 69.0 769.6 66.8 770.5 65.5 C771.4 64.2 772.1 64.0 772.9 64.0 C773.6 64.0 774.2 64.3 775.0 65.5 C775.8 66.7 776.7 68.2 777.5 71.0 C778.3 73.8 779.2 76.4 780.0 82.4 C780.8 88.5 781.7 97.2 782.5 107.3 C783.3 117.4 783.8 132.2 784.6 142.9 C785.4 153.6 786.2 165.1 787.1 171.3 C788.0 177.5 788.7 178.1 790.0 180.0 C791.3 181.9 793.2 182.2 795.0 183.0 C796.8 183.8 799.5 183.7 801.0 184.5 C802.5 185.3 803.0 186.1 804.0 188.0 C805.0 189.9 805.4 190.7 806.7 196.2 C808.0 201.7 810.2 214.0 812.0 221.1 C813.8 228.2 815.5 233.6 817.3 238.9 C819.1 244.2 821.2 248.8 822.7 253.1 C824.2 257.4 825.3 258.2 826.5 265.0 C827.7 271.8 828.9 287.1 829.8 294.0 C830.7 300.9 831.2 297.9 832.0 306.7 C832.8 315.5 833.8 333.4 834.7 346.7 C835.6 360.0 836.4 373.4 837.3 386.7 C838.2 400.0 839.1 416.3 840.0 426.7 C840.9 437.1 841.9 440.4 842.9 448.9 C843.9 457.4 844.8 468.2 845.7 477.8 C846.7 487.4 847.5 498.7 848.6 506.7 C849.7 514.7 851.0 520.5 852.5 526.0 C854.0 531.5 856.2 536.6 857.3 539.5 C858.4 542.4 858.9 542.7 859.2 543.3" fill="none" stroke="#82cdaa" stroke-width="2.00" stroke-dasharray="3.8 1.6" stroke-linejoin="round" shape-rendering="crispEdges"/>
<path d="M954.4 542.2 C955.5 540.0 959.0 533.0 961.1 528.9 C963.2 524.8 965.0 522.6 966.7 517.8 C968.4 513.0 969.8 504.8 971.1 500.0 C972.4 495.2 973.5 493.3 974.4 488.9 C975.3 484.4 975.8 478.5 976.7 473.3 C977.6 468.1 978.7 461.7 980.0 457.8 C981.3 453.9 982.5 451.8 984.4 450.0 C986.2 448.2 986.3 447.6 991.1 447.1 C995.9 447.1 1008.5 447.1 1013.3 447.1 C1018.1 447.8 1018.1 449.0 1020.0 451.1 C1021.9 453.2 1023.1 456.7 1024.4 460.0 C1025.7 463.3 1026.7 466.3 1027.8 471.1 C1028.9 475.9 1030.0 483.0 1031.1 488.9 C1032.2 494.8 1033.1 500.8 1034.4 506.7 C1035.7 512.6 1037.4 519.6 1038.9 524.4 C1040.4 529.2 1041.8 532.6 1043.3 535.6 C1044.8 538.6 1047.0 541.1 1047.8 542.2" fill="none" stroke="#82cdaa" stroke-width="2.00" stroke-dasharray="4.5 1.5" stroke-linejoin="round" shape-rendering="crispEdges"/>
<path d="M1066.6 543.0 C1068.2 541.6 1073.4 538.7 1076.4 534.5 C1079.5 530.3 1082.3 523.2 1084.9 517.6 C1087.5 512.0 1089.3 504.4 1091.9 500.7 C1094.5 497.0 1093.8 496.6 1100.4 495.7 C1107.0 495.1 1125.2 495.7 1131.3 495.1 C1137.0 494.1 1135.1 493.2 1137.0 489.5 C1138.9 485.8 1140.7 478.2 1142.6 472.6 C1144.5 467.0 1146.3 459.7 1148.2 455.7 C1150.1 451.7 1151.5 450.2 1153.8 448.7 C1156.1 447.2 1157.8 447.0 1162.3 446.7 C1166.8 446.7 1176.5 446.7 1180.8 446.9 C1185.1 448.5 1185.9 452.1 1187.9 456.4 C1189.9 460.7 1191.3 467.0 1192.7 472.9 C1194.1 478.8 1195.0 485.2 1196.2 491.9 C1197.4 498.6 1198.4 506.5 1199.8 513.2 C1201.2 519.9 1202.9 527.5 1204.5 532.2 C1206.1 537.0 1208.0 539.9 1209.2 541.7 C1210.5 543.0 1211.5 542.8 1212.0 543.0" fill="none" stroke="#82cdaa" stroke-width="2.00" stroke-dasharray="4.5 1.5" stroke-linejoin="round" shape-rendering="crispEdges"/>
<path d="M1106.0 543.0 C1106.3 540.0 1107.3 532.0 1108.0 525.0 C1108.7 518.0 1109.1 514.1 1110.2 500.7 C1111.3 487.3 1113.2 460.8 1114.4 444.4 C1115.6 428.0 1116.2 413.9 1117.2 402.2 C1118.2 390.5 1119.2 382.0 1120.1 374.1 C1121.0 366.2 1121.8 362.4 1122.5 355.0 C1123.2 347.6 1123.6 340.6 1124.1 330.0 C1124.6 319.4 1125.0 305.5 1125.6 291.1 C1126.2 276.7 1127.1 259.5 1127.9 243.7 C1128.7 227.9 1129.5 210.4 1130.3 196.2 C1131.1 182.0 1131.9 170.2 1132.7 158.3 C1133.5 146.5 1134.4 134.6 1135.0 125.1 C1135.6 115.6 1135.9 108.9 1136.5 101.4 C1137.1 93.9 1137.8 85.9 1138.5 80.0 C1139.2 74.1 1140.1 69.3 1141.0 66.0 C1141.9 62.7 1143.0 61.2 1144.0 60.0 C1145.0 58.8 1144.0 58.9 1146.9 58.7 C1152.0 58.7 1169.3 58.7 1174.4 58.7 C1177.5 59.1 1176.6 59.5 1177.5 61.0 C1178.4 62.5 1179.2 63.6 1180.0 68.0 C1180.8 72.4 1181.7 80.0 1182.5 87.2 C1183.3 94.4 1184.0 100.6 1184.8 110.9 C1185.6 121.2 1186.2 134.6 1187.2 148.8 C1188.2 163.0 1189.3 182.0 1190.5 196.2 C1191.7 210.4 1192.9 224.7 1194.3 234.2 C1195.7 243.7 1197.8 245.2 1199.1 253.1 C1200.4 261.0 1201.4 273.0 1202.4 281.6 C1203.4 290.2 1204.1 292.7 1205.2 305.0 C1206.3 317.3 1207.7 339.2 1208.9 355.6 C1210.1 372.1 1211.4 388.3 1212.6 403.7 C1213.8 419.1 1215.1 434.5 1216.3 448.1 C1217.5 461.7 1218.5 472.8 1220.0 485.2 C1221.5 497.6 1223.8 512.6 1225.6 522.2 C1227.4 531.8 1230.2 539.2 1231.1 542.6" fill="none" stroke="#82cdaa" stroke-width="2.00" stroke-dasharray="4.5 1.5" stroke-linejoin="round" shape-rendering="crispEdges"/>
<path d="M1031.0 543.5 C1031.6 543.1 1033.4 543.1 1034.6 541.4 C1035.8 539.6 1036.8 536.5 1038.0 533.0 C1039.2 529.5 1040.5 526.2 1042.0 520.2 C1043.5 514.2 1045.6 505.0 1047.2 497.0 C1048.8 489.0 1050.3 480.0 1051.6 472.0 C1052.9 464.0 1053.9 457.6 1054.9 448.9 C1055.9 440.2 1057.0 427.3 1057.8 420.0 C1058.6 412.7 1058.9 409.7 1059.5 405.0 C1060.1 400.3 1060.8 396.2 1061.5 392.0 C1062.2 387.8 1062.5 382.7 1063.8 379.7 C1065.1 376.7 1064.2 374.9 1069.4 374.0 C1074.6 374.0 1089.8 374.0 1094.7 374.0 C1099.0 374.7 1097.8 375.5 1099.0 378.3 C1100.2 381.1 1101.0 384.7 1101.8 391.0 C1102.6 397.3 1102.9 407.4 1103.7 416.3 C1104.5 425.2 1105.5 434.1 1106.6 444.4 C1107.7 454.7 1108.9 467.4 1110.2 478.2 C1111.5 489.0 1112.8 500.8 1114.4 509.2 C1116.1 517.6 1118.0 523.5 1120.1 528.9 C1122.2 534.3 1125.4 539.1 1127.1 541.5 C1128.8 543.5 1129.5 543.2 1130.0 543.5" fill="none" stroke="#d21fd2" stroke-width="2.00" stroke-linejoin="round" shape-rendering="crispEdges"/>
<path d="M516.5 543.6 C517.0 541.0 518.4 534.4 519.4 527.9 C520.4 521.4 521.3 512.8 522.3 504.8 C523.2 496.8 524.1 488.4 525.1 479.7 C526.1 471.0 527.0 461.8 528.0 452.8 C529.0 443.8 530.0 435.5 530.9 425.8 C531.8 416.1 532.4 405.7 533.3 394.7 C534.1 383.7 535.1 371.6 536.0 360.0 C536.9 348.4 537.9 336.0 538.7 325.3 C539.5 314.6 540.2 303.0 540.8 296.0 C541.4 289.0 541.6 287.5 542.1 283.4 C542.6 279.3 543.2 275.3 543.9 271.5 C544.6 267.7 545.1 263.7 546.3 260.8 C547.5 257.9 549.4 255.7 551.0 254.3 C552.6 252.9 552.6 252.5 555.8 252.2 C559.0 252.2 566.6 252.2 570.0 252.2 C573.4 252.5 574.3 253.2 575.9 254.3 C577.5 255.4 578.5 256.0 579.5 258.5 C580.5 261.0 581.2 265.4 581.9 269.1 C582.6 272.9 583.1 276.4 583.6 281.0 C584.1 285.6 584.3 289.0 584.8 296.4 C585.3 303.8 586.0 314.7 586.7 325.3 C587.5 335.9 588.4 348.4 589.3 360.0 C590.2 371.6 591.1 383.1 592.0 394.7 C592.9 406.2 593.8 418.4 594.7 429.3 C595.6 440.2 596.4 449.3 597.3 460.0 C598.2 470.7 599.0 483.1 600.1 493.3 C601.2 503.5 602.4 513.5 603.9 521.0 C605.4 528.5 607.5 534.8 609.0 538.6 C610.5 542.4 612.1 542.8 612.7 543.6" fill="none" stroke="#1f35e6" stroke-width="2.00" stroke-linejoin="round" shape-rendering="crispEdges"/>
<path d="M1032.8 543.3 C1033.4 543.0 1035.4 543.1 1036.6 541.4 C1037.8 539.7 1038.7 536.5 1040.0 533.0 C1041.3 529.5 1042.9 526.2 1044.3 520.2 C1045.7 514.2 1047.0 505.0 1048.5 497.0 C1050.0 489.0 1052.1 480.0 1053.5 472.0 C1054.9 464.0 1055.6 457.6 1056.8 448.9 C1058.0 440.2 1059.6 426.6 1060.6 420.0 C1061.5 413.4 1061.8 412.0 1062.5 409.0 C1063.2 406.0 1063.6 403.8 1065.0 402.0 C1066.4 400.2 1065.8 398.9 1070.8 398.3 C1075.8 398.3 1090.0 398.3 1094.7 398.3 C1099.0 398.9 1097.8 399.2 1099.0 402.2 C1100.2 405.2 1100.9 410.2 1101.8 416.3 C1102.7 422.4 1103.7 430.4 1104.6 438.8 C1105.5 447.2 1106.2 457.6 1107.4 467.0 C1108.6 476.4 1109.9 486.2 1111.6 495.1 C1113.2 504.0 1115.4 513.6 1117.3 520.4 C1119.2 527.2 1120.8 532.1 1122.9 535.9 C1125.0 539.7 1128.7 542.1 1129.9 543.3" fill="none" stroke="#1f35e6" stroke-width="2.00" stroke-linejoin="round" shape-rendering="crispEdges"/>
<path d="M60.0 544.0 C100.9 543.9 263.9 544.0 305.6 543.6 C310.0 542.9 308.7 541.7 310.0 540.0 C311.3 538.3 312.2 536.6 313.3 533.3 C314.4 530.0 315.6 525.5 316.7 520.0 C317.8 514.5 318.9 505.9 320.0 500.0 C321.1 494.1 322.2 490.7 323.3 484.4 C324.4 478.1 325.6 470.7 326.7 462.2 C327.8 453.7 328.9 442.6 330.0 433.3 C331.1 424.1 332.3 414.2 333.3 406.7 C334.3 399.1 335.2 392.2 336.2 388.0 C337.1 383.8 337.9 383.4 339.0 381.3 C340.1 379.2 341.4 376.5 342.7 375.3 C344.0 374.1 342.7 374.2 346.7 374.0 C351.8 374.0 368.0 374.0 373.3 374.0 C378.6 374.7 376.9 375.6 378.7 378.0 C380.5 380.4 382.4 385.4 384.0 388.7 C385.6 392.0 386.9 396.0 388.0 398.0 C389.1 400.0 389.8 400.5 390.7 400.5 C391.6 400.3 392.4 400.5 393.3 396.7 C394.2 392.5 395.1 384.6 396.0 375.3 C396.9 366.0 397.8 352.7 398.7 340.7 C399.6 328.7 400.4 314.4 401.3 303.3 C402.2 292.2 403.3 282.2 404.2 274.4 C405.1 266.6 405.7 263.2 406.7 256.7 C407.7 250.2 409.0 240.1 410.2 235.3 C411.4 230.6 412.3 231.4 413.8 228.2 C415.3 224.9 417.7 221.1 419.1 215.8 C420.5 210.5 421.1 204.8 422.0 196.2 C422.9 187.6 423.5 174.9 424.4 164.2 C425.3 153.5 426.4 142.9 427.3 132.2 C428.2 121.5 428.9 109.7 429.8 100.2 C430.7 90.7 431.5 80.6 432.6 75.3 C433.7 70.0 435.0 68.2 436.2 68.2 C437.4 68.2 438.7 69.4 439.7 75.3 C440.7 81.2 441.4 94.3 442.2 103.8 C443.0 113.3 443.9 120.9 444.7 132.2 C445.5 143.4 446.1 158.9 446.8 171.3 C447.5 183.8 447.9 195.1 448.6 206.9 C449.3 218.8 450.2 231.2 451.1 242.4 C452.0 253.7 453.0 265.9 454.0 274.4 C455.0 282.9 455.9 288.4 457.3 293.3 C458.8 298.2 461.1 299.1 462.7 304.0 C464.3 308.9 465.6 314.7 466.7 322.7 C467.8 330.7 468.4 342.2 469.3 352.0 C470.2 361.8 471.1 371.1 472.0 381.3 C472.9 391.5 473.8 402.7 474.7 413.3 C475.6 423.9 476.5 434.9 477.5 445.0 C478.5 455.1 479.6 464.7 480.8 474.0 C482.0 483.3 483.4 492.6 484.7 500.9 C486.0 509.2 487.2 517.9 488.5 524.0 C489.8 530.1 491.1 534.2 492.4 537.5 C493.7 540.8 492.7 542.8 496.2 543.9 C499.7 543.9 510.1 543.9 513.6 543.9 C517.1 542.8 516.3 540.8 517.4 537.5 C518.5 534.2 519.3 530.1 520.3 524.0 C521.3 517.9 522.2 508.6 523.2 500.9 C524.2 493.2 525.1 486.5 526.1 477.8 C527.1 469.1 528.0 457.0 529.0 448.9 C530.0 440.8 531.0 438.3 532.0 429.3 C533.0 420.3 533.8 406.2 534.7 394.7 C535.6 383.1 536.4 370.2 537.3 360.0 C538.2 349.8 539.1 340.9 540.0 333.3 C540.9 325.8 541.8 319.1 542.7 314.7 C543.7 310.3 544.3 309.2 545.7 307.0 C547.1 304.8 546.4 302.5 551.0 301.5 C555.6 301.2 568.9 301.2 573.5 301.2 C578.1 302.1 577.6 304.8 578.9 307.0 C580.2 309.2 580.4 310.3 581.3 314.7 C582.1 319.1 583.1 325.8 584.0 333.3 C584.9 340.9 585.8 349.8 586.7 360.0 C587.6 370.2 588.4 383.1 589.3 394.7 C590.2 406.2 591.0 419.2 592.0 429.3 C593.0 439.4 594.0 444.8 595.1 455.5 C596.2 466.2 597.6 482.4 598.9 493.3 C600.2 504.2 601.2 513.9 602.7 521.0 C604.2 528.1 606.0 532.3 607.7 536.1 C609.4 539.9 607.7 542.4 612.7 543.6 C621.7 543.6 652.8 543.6 661.8 543.6 C666.9 542.8 665.4 540.7 666.9 538.6 C668.4 536.5 669.4 534.9 670.6 531.1 C671.9 527.3 673.1 522.3 674.4 516.0 C675.7 509.7 676.9 500.0 678.2 493.3 C679.5 486.6 680.8 481.1 682.0 475.7 C683.2 470.2 684.2 464.8 685.7 460.6 C687.2 456.4 688.9 452.8 690.8 450.5 C692.7 448.2 690.8 447.6 697.1 447.0 C703.4 447.0 722.4 447.0 728.5 447.0 C733.6 447.2 731.9 447.8 733.6 448.0 C735.3 448.0 737.1 448.0 738.6 448.0 C740.1 447.2 741.4 445.9 742.4 443.0 C743.4 440.1 744.1 436.7 744.9 430.4 C745.7 424.1 746.4 412.5 747.4 405.2 C748.4 397.9 749.7 394.2 750.7 386.7 C751.7 379.2 752.4 371.1 753.3 360.0 C754.2 348.9 755.1 333.1 756.0 320.0 C756.9 306.9 758.0 290.4 758.7 281.6 C759.4 272.8 759.5 271.5 760.4 267.3 C761.3 263.1 762.2 259.3 764.0 256.7 C765.8 254.1 766.6 252.4 771.1 251.5 C775.6 251.5 786.6 251.5 790.7 251.5 C794.9 252.7 794.5 254.6 796.0 258.4 C797.5 262.2 798.5 264.1 799.6 274.4 C800.7 284.7 801.8 305.7 802.7 320.0 C803.7 334.3 804.4 347.6 805.3 360.0 C806.2 372.4 807.1 383.1 808.0 394.7 C808.9 406.2 810.0 420.3 810.7 429.3 C811.4 438.3 811.3 440.8 812.0 448.9 C812.7 457.0 813.9 469.1 814.9 477.8 C815.9 486.5 816.8 493.5 817.8 500.9 C818.8 508.3 819.6 516.3 820.7 522.1 C821.8 527.9 823.2 532.0 824.5 535.6 C825.8 539.2 824.5 542.3 828.4 543.6 C839.5 543.6 879.9 543.6 891.0 543.6 C894.9 542.6 893.8 540.1 894.9 537.5 C896.0 534.9 896.8 532.7 897.8 527.9 C898.8 523.1 899.8 516.0 900.7 508.6 C901.7 501.2 902.5 492.0 903.5 483.6 C904.5 475.2 905.4 466.5 906.4 458.5 C907.4 450.5 908.5 442.6 909.3 435.4 C910.1 428.1 910.5 423.1 911.2 415.0 C911.9 406.9 912.7 398.1 913.5 386.7 C914.3 375.3 915.4 355.3 916.0 346.7 C916.6 338.1 917.0 338.7 917.4 335.0 C917.8 331.3 917.9 327.7 918.1 324.5 C918.4 321.3 918.6 318.4 918.9 315.6 C919.2 312.8 919.5 310.7 919.9 307.7 C920.3 304.7 920.9 300.8 921.4 297.8 C921.9 294.8 922.3 292.1 922.7 289.8 C923.1 287.5 923.4 285.5 923.9 283.9 C924.4 282.2 924.9 281.0 925.9 279.9 C926.9 278.8 925.9 277.5 929.8 277.0 C933.9 277.0 946.6 277.0 950.7 277.0 C954.6 277.3 953.5 277.9 954.6 278.9 C955.7 279.9 956.4 280.9 957.1 282.9 C957.9 284.9 958.5 288.0 959.1 290.8 C959.7 293.6 960.2 296.9 960.6 299.7 C961.0 302.5 961.5 305.0 961.8 307.7 C962.1 310.4 962.4 312.8 962.6 315.6 C962.8 318.4 962.9 321.3 963.1 324.5 C963.4 327.7 963.7 329.9 964.1 335.0 C964.5 340.1 965.0 348.8 965.5 355.0 C966.0 361.2 966.2 364.5 966.8 372.0 C967.4 379.5 968.2 389.8 968.9 400.0 C969.6 410.2 970.2 422.2 971.1 433.3 C972.0 444.4 973.1 455.6 974.4 466.7 C975.7 477.8 977.2 490.0 978.9 500.0 C980.6 510.0 982.7 520.0 984.4 526.7 C986.1 533.4 987.4 537.1 988.9 540.0 C990.4 542.9 988.9 543.3 993.3 544.0 C1039.6 544.0 1221.4 544.0 1267.0 544.0" fill="none" stroke="#24a761" stroke-width="2.00" stroke-linejoin="round" shape-rendering="crispEdges"/>
<g transform="translate(0 0.3)"><path d="M61.0 520.0 C61.9 520.7 64.7 522.2 66.6 524.0 C68.5 525.8 70.4 528.5 72.3 530.8 C74.2 533.0 76.2 535.6 78.1 537.5 C80.0 539.4 82.0 541.3 83.9 542.3 C85.8 543.3 86.5 543.5 89.7 543.7 C92.9 543.7 100.0 543.7 103.2 543.7 C106.4 543.3 107.1 543.1 109.0 541.4 C110.9 539.7 112.8 536.9 114.7 533.7 C116.6 530.5 118.9 526.9 120.5 522.1 C122.1 517.3 123.1 511.2 124.4 504.8 C125.7 498.4 126.9 491.3 128.2 483.6 C129.5 475.9 130.7 468.1 132.1 458.5 C133.5 448.9 135.3 434.1 136.6 426.0 C137.9 417.9 138.7 413.7 140.0 410.0 C141.3 406.3 143.0 403.6 144.5 403.6 C146.0 403.6 147.8 406.5 149.0 410.0 C150.2 413.5 150.9 418.4 152.0 424.7 C153.1 431.0 154.3 440.0 155.5 448.0 C156.7 456.0 157.8 464.7 159.0 472.5 C160.2 480.3 161.6 488.4 163.0 495.0 C164.4 501.6 166.0 507.7 167.5 512.0 C169.0 516.3 170.6 518.7 172.0 521.0 C173.4 523.3 174.2 524.5 176.0 526.0 C177.8 527.5 180.4 528.7 182.7 529.8 C184.9 530.9 187.2 532.7 189.5 532.7 C191.8 532.6 193.8 530.7 196.2 528.9 C198.6 527.1 201.7 523.5 203.9 522.1 C206.2 520.7 206.2 520.5 209.7 520.2 C213.2 520.2 221.6 520.2 225.1 520.2 C228.6 521.0 229.0 523.4 230.9 525.0 C232.8 526.6 234.8 527.9 236.7 529.8 C238.6 531.7 240.5 535.0 242.4 536.6 C244.3 538.2 246.6 539.2 248.2 539.5 C249.8 539.5 250.4 539.5 252.0 538.5 C253.6 536.6 256.0 533.5 257.9 527.9 C259.8 522.3 261.7 512.5 263.6 504.8 C265.5 497.1 267.8 488.4 269.4 481.7 C271.0 474.9 272.0 469.1 273.3 464.3 C274.6 459.5 275.5 455.5 277.1 452.8 C278.7 450.1 280.2 448.9 282.9 448.0 C285.6 447.1 290.4 447.1 293.3 447.1 C296.2 447.4 298.1 448.6 300.0 450.0 C301.9 451.4 303.1 453.6 304.4 455.6 C305.7 457.6 306.5 460.2 307.8 462.2 C309.1 464.2 310.5 466.3 312.2 467.8 C313.9 469.3 316.1 470.2 317.8 471.1 C319.5 472.0 320.9 472.2 322.2 473.3 C323.5 474.4 324.5 475.2 325.6 477.8 C326.7 480.4 327.6 484.5 328.9 488.9 C330.2 493.3 331.8 499.2 333.3 504.4 C334.8 509.6 336.3 515.5 337.8 520.0 C339.3 524.5 340.7 528.0 342.2 531.1 C343.7 534.2 345.2 537.0 346.7 538.9 C348.2 540.8 349.6 541.4 351.1 542.2 C352.6 543.1 351.1 543.8 355.6 544.0 C360.9 544.0 377.2 544.0 383.1 543.5 C389.0 542.2 387.8 538.9 390.7 536.2 C393.6 533.5 397.9 529.9 400.8 527.4 C403.7 524.9 406.2 522.2 408.3 521.0 C410.4 520.0 408.3 520.1 413.4 520.0 C422.3 520.0 452.6 520.0 461.6 520.2 C467.3 520.9 465.4 522.1 467.3 524.0 C469.2 525.9 471.2 529.5 473.1 531.8 C475.0 534.0 476.8 535.9 478.9 537.5 C481.0 539.1 483.7 540.8 485.6 541.4 C487.5 541.4 488.7 541.4 490.5 541.0 C492.3 540.5 494.3 539.7 496.2 538.5 C498.1 537.3 500.1 535.6 502.0 533.7 C503.9 531.8 505.9 528.8 507.8 526.9 C509.7 525.0 511.7 523.2 513.6 522.1 C515.5 521.0 517.6 520.8 519.4 520.2 C521.2 519.6 522.6 519.6 524.2 518.3 C525.8 517.0 527.7 515.1 529.0 512.5 C530.3 509.9 530.9 507.7 531.9 502.9 C532.9 498.1 533.8 490.4 534.8 483.6 C535.8 476.9 536.7 468.8 537.7 462.4 C538.7 456.0 539.7 450.1 540.6 445.0 C541.5 439.9 542.3 435.0 543.4 431.6 C544.5 428.2 546.0 426.2 547.3 424.8 C548.6 423.4 549.8 422.9 551.2 422.9 C552.7 422.9 554.4 423.0 556.0 424.8 C557.6 426.6 559.0 430.8 560.6 433.5 C562.2 436.2 563.6 439.3 565.4 441.2 C567.2 443.1 569.3 444.0 571.2 445.0 C573.1 446.0 575.2 445.6 577.0 447.0 C578.8 448.4 580.4 450.5 581.8 453.7 C583.2 456.9 584.5 461.9 585.6 466.2 C586.7 470.5 587.5 475.2 588.5 479.7 C589.5 484.2 590.3 488.4 591.4 493.2 C592.5 498.0 594.0 503.5 595.3 508.6 C596.6 513.7 597.8 519.8 599.1 524.0 C600.4 528.2 601.5 531.0 603.0 533.7 C604.5 536.4 606.2 538.7 607.8 540.4 C609.4 542.1 608.1 543.3 612.6 543.9 C617.1 543.9 630.1 543.9 634.8 543.9 C639.5 543.3 638.7 541.8 640.6 540.4 C642.5 539.0 644.4 537.7 646.3 535.6 C648.2 533.5 650.3 530.0 652.1 527.9 C653.9 525.8 654.6 524.4 656.9 523.1 C659.1 521.8 659.1 520.5 665.6 520.0 C672.1 520.0 689.5 520.0 695.8 520.0 C702.1 519.5 701.3 519.1 703.4 517.2 C705.5 515.3 706.7 511.3 708.4 508.4 C710.1 505.5 711.3 501.7 713.4 499.6 C715.5 497.5 718.5 496.5 721.0 495.8 C723.5 495.3 726.0 495.3 728.5 495.3 C731.0 495.5 733.8 495.3 736.1 497.1 C738.4 498.9 740.5 503.0 742.4 505.9 C744.3 508.8 745.7 512.7 747.4 514.7 C749.1 516.7 750.4 517.9 752.5 518.0 C754.6 518.0 757.8 517.6 760.0 515.4 C762.2 513.2 763.9 507.7 765.8 504.8 C767.7 501.9 769.7 499.2 771.6 498.0 C773.5 497.6 775.4 497.6 777.3 497.6 C779.2 498.7 781.3 502.2 783.1 504.8 C784.9 507.4 786.0 511.0 787.9 513.4 C789.8 515.8 792.9 518.1 794.7 519.2 C796.5 520.2 795.9 520.0 798.5 520.2 C801.1 520.2 807.2 520.2 810.1 520.2 C813.0 520.7 814.0 521.5 815.9 523.1 C817.8 524.7 819.8 527.7 821.7 529.8 C823.6 531.9 825.5 533.8 827.4 535.6 C829.3 537.4 831.6 539.1 833.2 540.4 C834.8 541.7 833.2 542.8 837.1 543.3 C849.3 543.3 894.1 543.3 906.3 543.3 C910.0 543.0 908.7 542.3 910.0 541.5 C911.3 540.7 912.1 540.2 914.1 538.7 C916.1 537.2 919.2 534.9 921.7 532.4 C924.2 529.9 927.2 525.6 929.3 523.6 C931.4 521.6 929.3 521.1 934.3 520.6 C940.5 520.4 960.2 520.4 966.7 520.4 C973.2 521.0 971.1 522.2 973.3 524.4 C975.5 526.5 977.8 530.7 980.0 533.3 C982.2 535.9 984.9 538.3 986.7 540.0 C988.6 541.7 986.7 542.6 991.1 543.3 C998.0 544.0 1020.7 544.0 1027.8 544.0 C1033.7 543.7 1032.1 543.2 1033.7 541.4 C1035.3 539.6 1036.0 536.5 1037.5 533.0 C1039.0 529.5 1041.2 526.2 1042.9 520.2 C1044.6 514.2 1046.1 505.0 1047.7 497.0 C1049.3 489.0 1051.2 479.3 1052.6 472.0 C1053.9 464.7 1054.9 456.8 1055.8 453.0 C1056.7 449.2 1057.0 449.9 1057.7 449.0 C1058.4 448.1 1058.9 447.7 1060.0 447.4 C1061.1 447.1 1060.5 447.4 1064.4 447.1 C1068.3 446.8 1079.4 446.7 1083.5 445.8 C1087.6 444.9 1087.5 444.2 1089.1 441.6 C1090.7 439.0 1091.9 437.0 1093.3 430.4 C1094.7 423.8 1096.1 410.2 1097.5 402.2 C1098.9 394.2 1100.1 387.2 1101.8 382.5 C1103.5 377.8 1105.5 375.6 1107.4 374.1 C1109.3 373.5 1110.9 373.5 1113.0 373.5 C1115.1 374.4 1118.2 375.8 1120.1 379.7 C1122.0 383.6 1122.9 390.5 1124.3 396.6 C1125.7 402.7 1127.1 410.2 1128.5 416.3 C1129.9 422.4 1131.3 428.8 1132.7 433.2 C1134.1 437.6 1135.6 441.6 1137.0 443.0 C1138.4 443.0 1139.3 443.0 1141.2 441.6 C1143.1 439.5 1145.9 433.4 1148.2 430.4 C1150.5 427.3 1153.3 424.5 1155.2 423.3 C1157.1 423.2 1157.8 423.2 1159.5 423.2 C1161.2 424.4 1163.8 427.1 1165.4 430.3 C1167.0 433.5 1168.0 437.8 1169.0 442.1 C1170.0 446.5 1170.5 451.3 1171.3 456.4 C1172.1 461.5 1172.9 467.4 1173.7 472.9 C1174.5 478.4 1175.1 483.6 1176.1 489.5 C1177.1 495.4 1178.2 502.6 1179.6 508.5 C1181.0 514.4 1182.6 520.4 1184.4 525.1 C1186.2 529.8 1188.1 534.1 1190.3 536.9 C1192.5 539.7 1195.7 540.8 1197.4 541.7 C1199.1 542.6 1198.9 542.6 1200.5 542.6 C1202.1 542.4 1204.1 542.2 1207.0 540.7 C1209.9 539.2 1214.4 536.4 1218.1 533.3 C1221.8 530.2 1226.2 524.7 1229.3 522.2 C1232.4 519.7 1234.5 519.4 1236.7 518.5 C1238.9 517.6 1240.4 518.5 1242.2 516.7 C1244.0 513.6 1246.0 505.9 1247.8 500.0 C1249.6 494.1 1251.4 487.7 1253.3 481.5 C1255.2 475.3 1257.4 466.4 1258.9 463.0 C1260.5 461.1 1261.2 461.1 1262.6 461.1 C1263.9 462.3 1266.3 468.8 1267.0 470.4" fill="none" stroke="#ffa500" stroke-width="1.15" stroke-linejoin="round" shape-rendering="crispEdges"/>
</g>
<line x1="130.1" y1="156.6" x2="141.7" y2="204.2" stroke="#262626" stroke-width="2.9" stroke-linecap="butt" shape-rendering="crispEdges"/>
<line x1="551.5" y1="207.3" x2="560.7" y2="291.1" stroke="#262626" stroke-width="2.9" stroke-linecap="butt" shape-rendering="crispEdges"/>
<line x1="747.8" y1="204.4" x2="770.0" y2="247.1" stroke="#262626" stroke-width="2.9" stroke-linecap="butt" shape-rendering="crispEdges"/>
<line x1="637.2" y1="359.9" x2="655.1" y2="328.5" stroke="#262626" stroke-width="2.9" stroke-linecap="butt" shape-rendering="crispEdges"/>
<line x1="877.0" y1="270.0" x2="914.0" y2="298.0" stroke="#262626" stroke-width="2.9" stroke-linecap="butt" shape-rendering="crispEdges"/>
<line x1="1039.7" y1="352.9" x2="1062.2" y2="374.2" stroke="#262626" stroke-width="2.9" stroke-linecap="butt" shape-rendering="crispEdges"/>
<defs><radialGradient id="qfade"><stop offset="0" stop-color="#fff" stop-opacity="1"/><stop offset="0.55" stop-color="#fff" stop-opacity="0.85"/><stop offset="1" stop-color="#fff" stop-opacity="0"/></radialGradient></defs>
<ellipse transform="translate(926.4 176.0) rotate(-40)" cx="0" cy="0" rx="29.0" ry="21.0" fill="none" stroke="#efb3f8" stroke-width="3.6" pathLength="360" stroke-dasharray="250 40 70 0"/><ellipse transform="translate(923.9 174.5) rotate(-40)" cx="0" cy="0" rx="23.5" ry="17.0" fill="none" stroke="#df7cf6" stroke-width="3.4" pathLength="360" stroke-dasharray="250 40 70 0"/><ellipse transform="translate(921.9 172.8) rotate(-40)" cx="0" cy="0" rx="18.0" ry="13.0" fill="none" stroke="#d55ef3" stroke-width="3.0" pathLength="360" stroke-dasharray="250 40 70 0"/><ellipse cx="906.4" cy="158.5" rx="17" ry="15" fill="url(#qfade)" transform="rotate(-40 906.4 158.5)"/><ellipse transform="translate(919.4 170.5) rotate(-40)" cx="0" cy="0" rx="10.8" ry="8.3" fill="#9457b8"/><line x1="891.9" y1="156.0" x2="909.9" y2="170.0" stroke="#b48ccc" stroke-width="1"/><polygon points="883.4,146.5 889.9,153.0 892.4,156.3 888.4,155.7 880.2,150.1 884.9,150.3" fill="#9457b8"/>
<ellipse transform="translate(1019.2 296.0) rotate(-40)" cx="0" cy="0" rx="29.0" ry="21.0" fill="none" stroke="#efb3f8" stroke-width="3.6" pathLength="360" stroke-dasharray="250 40 70 0"/><ellipse transform="translate(1016.7 294.5) rotate(-40)" cx="0" cy="0" rx="23.5" ry="17.0" fill="none" stroke="#df7cf6" stroke-width="3.4" pathLength="360" stroke-dasharray="250 40 70 0"/><ellipse transform="translate(1014.7 292.8) rotate(-40)" cx="0" cy="0" rx="18.0" ry="13.0" fill="none" stroke="#d55ef3" stroke-width="3.0" pathLength="360" stroke-dasharray="250 40 70 0"/><ellipse cx="999.2" cy="278.5" rx="17" ry="15" fill="url(#qfade)" transform="rotate(-40 999.2 278.5)"/><ellipse transform="translate(1012.2 290.5) rotate(-40)" cx="0" cy="0" rx="10.8" ry="8.3" fill="#9457b8"/><line x1="984.7" y1="276.0" x2="1002.7" y2="290.0" stroke="#b48ccc" stroke-width="1"/><polygon points="976.2,266.5 982.7,273.0 985.2,276.3 981.2,275.7 973.0,270.1 977.7,270.3" fill="#9457b8"/>
<rect x="337.5" y="598" width="609" height="58.3" fill="#fff" stroke="#888" stroke-width="1"/>
<line x1="344.5" y1="614.5" x2="369.5" y2="614.5" stroke="#ffa500" stroke-width="1.0" shape-rendering="crispEdges"/><text x="373.5" y="618.9" font-size="12.3" fill="#444">Sun</text>
<line x1="432.5" y1="614.5" x2="454.5" y2="614.5" stroke="#82cdaa" stroke-width="2.0" stroke-dasharray="4 2 10 2 4 100" shape-rendering="crispEdges"/><text x="460.0" y="618.9" font-size="12.3" fill="#444">LG(r)</text>
<line x1="516.0" y1="614.5" x2="541.0" y2="614.5" stroke="#b5382b" stroke-width="2.0" shape-rendering="crispEdges"/><text x="545.0" y="618.9" font-size="12.3" fill="#444">PG</text>
<line x1="602.0" y1="614.5" x2="627.0" y2="614.5" stroke="#d21fd2" stroke-width="2.0" shape-rendering="crispEdges"/><text x="631.0" y="618.9" font-size="12.3" fill="#444">PGve(c)</text>
<line x1="690.5" y1="614.5" x2="712.5" y2="614.5" stroke="#e46464" stroke-width="2.0" stroke-dasharray="4 2 10 2 4 100" shape-rendering="crispEdges"/><text x="718.0" y="618.9" font-size="12.3" fill="#444">PGme(r)</text>
<line x1="777.0" y1="614.5" x2="799.0" y2="614.5" stroke="#3c7fd6" stroke-width="2.0" stroke-dasharray="4 2 10 2 4 100" shape-rendering="crispEdges"/><text x="804.5" y="618.9" font-size="12.3" fill="#444">PGea(r)</text>
<line x1="863.0" y1="614.5" x2="885.0" y2="614.5" stroke="#d07ae0" stroke-width="2.0" stroke-dasharray="4 2" shape-rendering="crispEdges"/><text x="890.5" y="618.9" font-size="12.3" fill="#444">PGve(s)</text>
<line x1="344.5" y1="640.0" x2="369.5" y2="640.0" stroke="#24a761" stroke-width="2.0" shape-rendering="crispEdges"/><text x="373.5" y="644.4" font-size="12.3" fill="#444">LG(c)</text>
<line x1="432.5" y1="640.0" x2="454.5" y2="640.0" stroke="#82cdaa" stroke-width="2.0" stroke-dasharray="4 2" shape-rendering="crispEdges"/><text x="460.0" y="644.4" font-size="12.3" fill="#444">LG(s)</text>
<line x1="516.0" y1="640.0" x2="541.0" y2="640.0" stroke="#ff0000" stroke-width="2.0" shape-rendering="crispEdges"/><text x="545.0" y="644.4" font-size="12.3" fill="#444">PGme(c)</text>
<line x1="602.0" y1="640.0" x2="627.0" y2="640.0" stroke="#1f35e6" stroke-width="2.0" shape-rendering="crispEdges"/><text x="631.0" y="644.4" font-size="12.3" fill="#444">PGea(c)</text>
<line x1="690.5" y1="640.0" x2="712.5" y2="640.0" stroke="#cc5ce0" stroke-width="2.0" stroke-dasharray="4 2 10 2 4 100" shape-rendering="crispEdges"/><text x="718.0" y="644.4" font-size="12.3" fill="#444">PGve(r)</text>
<line x1="777.0" y1="640.0" x2="799.0" y2="640.0" stroke="#ee6666" stroke-width="2.0" stroke-dasharray="4 2" shape-rendering="crispEdges"/><text x="804.5" y="644.4" font-size="12.3" fill="#444">PGme(s)</text>
<line x1="863.0" y1="640.0" x2="885.0" y2="640.0" stroke="#4f86dc" stroke-width="2.0" stroke-dasharray="4 2" shape-rendering="crispEdges"/><text x="890.5" y="644.4" font-size="12.3" fill="#444">PGea(s)</text>
<text x="41.10" y="612.0" font-size="17.5" fill="#333" font-weight="bold" textLength="191.30" lengthAdjust="spacingAndGlyphs">M 7.6 DRAKE PASSAGE</text>
<text x="41.00" y="635.8" font-size="16" fill="#333" textLength="184.99" lengthAdjust="spacingAndGlyphs">2025-10-10, 20:29:22 UTC</text>
<text x="1174.70" y="619.8" font-size="17.5" fill="#555" font-weight="bold" textLength="65.59" lengthAdjust="spacingAndGlyphs">SSGEOS</text>
<text x="1174.70" y="645.9" font-size="18" fill="#555" textLength="91.39" lengthAdjust="spacingAndGlyphs">ssgeos.org</text>
</svg></body></html>
